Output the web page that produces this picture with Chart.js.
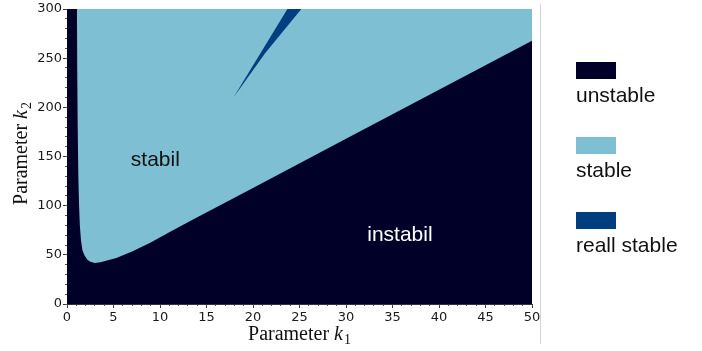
<!DOCTYPE html>
<html>
<head>
<meta charset="utf-8">
<script src="https://cdn.jsdelivr.net/npm/chart.js@4.4.1/dist/chart.umd.min.js"></script>
<style>
    html, body { margin: 0; padding: 0; background: #fff; }
    #wrap { position: relative; width: 702px; height: 351px; }
    #divider { position: absolute; left: 540px; top: 4px; width: 1px; height: 340px; background: #d4d4d4; }
    #legend { position: absolute; left: 576px; top: 62px; font-family: "Liberation Sans", Arial, sans-serif; font-size: 21px; color: #111; }
    .legend-item { margin-bottom: 30px; }
    .legend-box { width: 40px; height: 17px; }
    .legend-text { margin-top: 4px; line-height: 24px; white-space: nowrap; }
</style>
</head>
<body>
<div id="wrap">
    <canvas id="stabilityChart" width="702" height="351"></canvas>
    <div id="divider"></div>
    <div id="legend"></div>
</div>
<script>
const regionLabels = ["unstable", "stable", "reall stable"];
const regionColors = ["#000028", "#7fbfd4", "#003f7f"];

// whole parameter plane (unstable background)
const unstableK1 = [0, 50];
const unstableK2 = [300, 300];

// lower / left border of the stable region
const stableK1 = [1.07, 1.1, 1.15, 1.22, 1.3, 1.38, 1.5, 1.65, 1.9, 2.2, 2.5, 3.0, 3.6, 4.3, 5.3, 7, 8.9, 11, 13.5, 20, 30, 40, 50];
const stableK2 = [300, 240, 180, 130, 100, 80, 65, 55, 49, 45, 43, 41.8, 42.5, 44.2, 46.8, 53.5, 62, 73, 85.8, 118, 168, 218, 267.6];

// thin wedge of "reall stable"
const wedgeLowerK1 = [17.9, 21.3, 25.2];
const wedgeLowerK2 = [210, 255, 300];
const wedgeUpperK1 = [17.9, 23.7, 25.2];
const wedgeUpperK2 = [210, 300, 300];

const xTitle = ["Parameter ", "k", "1"];
const yTitle = ["Parameter ", "k", "2"];

const regionNotes = [
    { text: "stabil", k1: 9.5, k2: 146.5, color: "#111111" },
    { text: "instabil", k1: 35.8, k2: 69.5, color: "#ffffff" }
];

const tickFont = { family: "DejaVu Sans", size: 13 };
const tickColor = "#1a1a1a";

function toPoints(xs, ys) {
    return xs.map((x, i) => ({ x, y: ys[i] }));
}

function areaDataset(label, points, fill, color, order) {
    return {
        label,
        data: points,
        showLine: true,
        fill,
        backgroundColor: color,
        borderColor: "rgba(0,0,0,0)",
        borderWidth: 0,
        pointRadius: 0,
        pointHoverRadius: 0,
        tension: 0,
        order
    };
}

function drawAxisTitle(ctx, parts, cx, cy, angle) {
    const mainFont = '20px "Liberation Serif"';
    const italicFont = 'italic 20px "Liberation Serif"';
    const subFont = '14px "Liberation Serif"';
    ctx.save();
    ctx.font = mainFont;
    const w1 = ctx.measureText(parts[0]).width;
    ctx.font = italicFont;
    const w2 = ctx.measureText(parts[1]).width;
    ctx.font = subFont;
    const w3 = ctx.measureText(parts[2]).width;
    const total = w1 + w2 + 1 + w3;
    ctx.translate(cx, cy);
    ctx.rotate(angle);
    ctx.fillStyle = "#111";
    ctx.textBaseline = "alphabetic";
    ctx.textAlign = "left";
    let x = -total / 2;
    const base = 6;
    ctx.font = mainFont;
    ctx.fillText(parts[0], x, base);
    x += w1;
    ctx.font = italicFont;
    ctx.fillText(parts[1], x, base);
    x += w2 + 1;
    ctx.font = subFont;
    ctx.fillText(parts[2], x, base + 4);
    ctx.restore();
}

const axisTitlePlugin = {
    id: "axisTitles",
    afterDraw(chart) {
        const { ctx, chartArea } = chart;
        drawAxisTitle(ctx, xTitle, (chartArea.left + chartArea.right) / 2, 334, 0);
        drawAxisTitle(ctx, yTitle, 21, (chartArea.top + chartArea.bottom) / 2 - 3, -Math.PI / 2);
    }
};

const regionNotePlugin = {
    id: "regionNotes",
    afterDatasetsDraw(chart) {
        const { ctx, scales } = chart;
        ctx.save();
        ctx.font = '21px "Liberation Sans"';
        ctx.textAlign = "center";
        ctx.textBaseline = "middle";
        regionNotes.forEach((note) => {
            ctx.fillStyle = note.color;
            ctx.fillText(note.text, scales.x.getPixelForValue(note.k1), scales.y.getPixelForValue(note.k2));
        });
        ctx.restore();
    }
};

function renderLegend() {
    document.getElementById("legend").innerHTML = regionLabels.map((label, i) => `
        <div class="legend-item">
            <div class="legend-box" style="background:${regionColors[i]}"></div>
            <div class="legend-text">${label}</div>
        </div>
    `).join("");
}

new Chart(document.getElementById("stabilityChart"), {
    type: "scatter",
    data: {
        datasets: [
            areaDataset("reall stable edge", toPoints(wedgeLowerK1, wedgeLowerK2), false, regionColors[2], 1),
            areaDataset(regionLabels[2], toPoints(wedgeUpperK1, wedgeUpperK2), "-1", regionColors[2], 1),
            areaDataset(regionLabels[1], toPoints(stableK1, stableK2), "end", regionColors[1], 2),
            areaDataset(regionLabels[0], toPoints(unstableK1, unstableK2), "start", regionColors[0], 3)
        ]
    },
    options: {
        responsive: false,
        animation: false,
        events: [],
        layout: { padding: { top: 9, right: 170, left: 0, bottom: 0 } },
        plugins: {
            legend: { display: false },
            tooltip: { enabled: false }
        },
        scales: {
            x: {
                type: "linear",
                min: 0,
                max: 50,
                ticks: { stepSize: 5, font: tickFont, color: tickColor, padding: 2, maxRotation: 0, autoSkip: false },
                grid: { drawOnChartArea: false, tickLength: 4, tickColor: "#333" },
                border: { color: "#333" },
                afterFit: (scale) => { scale.height = 47; }
            },
            xMinor: {
                type: "linear",
                position: { y: 0 },
                min: 0,
                max: 50,
                ticks: { stepSize: 1, display: false, autoSkip: false },
                grid: { drawOnChartArea: false, tickLength: 2, tickColor: "#555" },
                border: { display: false }
            },
            y: {
                type: "linear",
                min: 0,
                max: 300,
                ticks: { stepSize: 50, font: tickFont, color: tickColor, padding: 1 },
                grid: { drawOnChartArea: false, tickLength: 4, tickColor: "#333" },
                border: { color: "#333" },
                afterFit: (scale) => { scale.width = 67; }
            },
            yMinor: {
                type: "linear",
                position: { x: 0 },
                min: 0,
                max: 300,
                ticks: { stepSize: 10, display: false, autoSkip: false },
                grid: { drawOnChartArea: false, tickLength: 2, tickColor: "#555" },
                border: { display: false }
            }
        }
    },
    plugins: [regionNotePlugin, axisTitlePlugin]
});

renderLegend();
</script>
</body>
</html>
